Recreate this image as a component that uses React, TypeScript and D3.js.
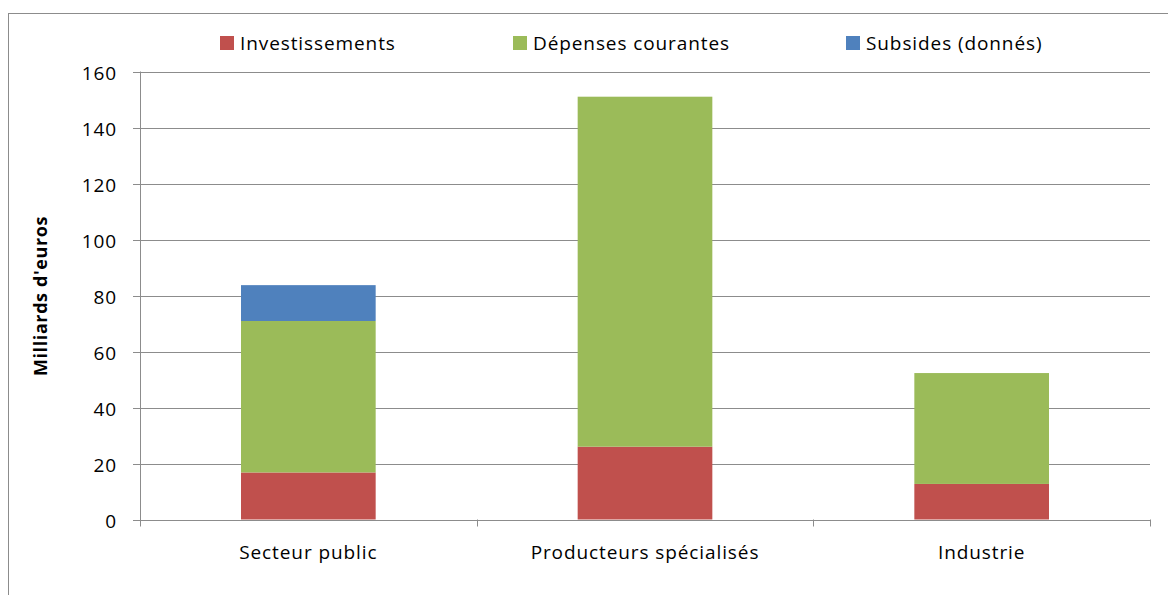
import React, { useEffect, useRef } from 'react';
import * as d3 from 'd3';

const categories = ['Secteur public', 'Producteurs spécialisés', 'Industrie'];
const seriesNames = ['Investissements', 'Dépenses courantes', 'Subsides (donnés)'];
const investissements = [16.8, 26, 12.7];
const depensesCourantes = [54.1, 125, 39.6];
const subsides = [12.8, 0, 0];
const yTicks = [0, 20, 40, 60, 80, 100, 120, 140, 160];
const colors = ['#c0504d', '#9bbb59', '#4f81bd'];

const W = 1168;
const H = 595;

const App: React.FC = () => {
  const svgRef = useRef<SVGSVGElement>(null);

  useEffect(() => {
    if (!svgRef.current) return;
    const svg = d3.select(svgRef.current);
    svg.selectAll('*').remove();

    const font = '"Open Sans", Lato, sans-serif';
    const fontSize = '19px';
    const spacing = '0.9px';
    const plot = { left: 140, right: 1150, top: 71.5, bottom: 519.5 };

    // cadre du graphique
    svg.append('rect')
      .attr('x', 8.5).attr('y', 13.5)
      .attr('width', W + 20).attr('height', H + 20)
      .attr('fill', 'white')
      .attr('stroke', '#8c8c8c');

    const x = d3.scaleBand<string>()
      .domain(categories)
      .range([plot.left, plot.right])
      .paddingInner(0.6)
      .paddingOuter(0.3);

    const y = d3.scaleLinear().domain([0, 160]).range([plot.bottom, plot.top]);

    // grille
    svg.append('g')
      .selectAll('line')
      .data(yTicks.filter(t => t > 0))
      .enter().append('line')
      .attr('x1', plot.left).attr('x2', plot.right)
      .attr('y1', d => Math.round(y(d)) + 0.5).attr('y2', d => Math.round(y(d)) + 0.5)
      .attr('stroke', '#8c8c8c').attr('stroke-width', 1);

    // barres empilées
    const rows = categories.map((c, i) => ({
      cat: c,
      [seriesNames[0]]: investissements[i],
      [seriesNames[1]]: depensesCourantes[i],
      [seriesNames[2]]: subsides[i],
    }));
    const stack = d3.stack<any>().keys(seriesNames)(rows);

    stack.forEach((layer, si) => {
      svg.append('g')
        .selectAll('rect')
        .data(layer.filter(d => d[1] - d[0] > 0))
        .enter().append('rect')
        .attr('x', d => x(d.data.cat)!)
        .attr('width', x.bandwidth())
        .attr('y', d => y(d[1]))
        .attr('height', d => y(d[0]) - y(d[1]))
        .attr('fill', colors[si]);
    });

    // axe Y
    const axisColor = '#8c8c8c';
    svg.append('line')
      .attr('x1', plot.left + 0.5).attr('x2', plot.left + 0.5)
      .attr('y1', plot.top).attr('y2', plot.bottom + 6)
      .attr('stroke', axisColor);
    yTicks.forEach(t => {
      const yy = Math.round(y(t)) + 0.5;
      svg.append('line')
        .attr('x1', plot.left - 7).attr('x2', plot.left)
        .attr('y1', yy).attr('y2', yy)
        .attr('stroke', axisColor);
      svg.append('text')
        .attr('x', plot.left - 23).attr('y', yy)
        .attr('text-anchor', 'end')
        .attr('dominant-baseline', 'central')
        .style('font-family', font).style('font-size', fontSize)
        .style('letter-spacing', spacing)
        .attr('fill', '#000')
        .text(t);
    });

    // axe X
    svg.append('line')
      .attr('x1', plot.left).attr('x2', plot.right)
      .attr('y1', Math.round(y(0)) + 0.5).attr('y2', Math.round(y(0)) + 0.5)
      .attr('stroke', axisColor);
    const step = x.step();
    d3.range(categories.length + 1).forEach(i => {
      const xx = Math.round(plot.left + i * step) + 0.5;
      svg.append('line')
        .attr('x1', xx).attr('x2', xx)
        .attr('y1', plot.bottom).attr('y2', plot.bottom + 7)
        .attr('stroke', axisColor);
    });
    categories.forEach(c => {
      svg.append('text')
        .attr('x', x(c)! + x.bandwidth() / 2)
        .attr('y', 552)
        .attr('text-anchor', 'middle')
        .attr('dominant-baseline', 'central')
        .style('font-family', font).style('font-size', fontSize)
        .style('letter-spacing', spacing)
        .text(c);
    });

    // titre axe Y
    svg.append('text')
      .attr('transform', 'translate(40,296) rotate(-90)')
      .attr('text-anchor', 'middle')
      .attr('dominant-baseline', 'central')
      .style('font-family', font).style('font-size', '18px')
      .style('letter-spacing', '0.6px')
      .style('font-weight', 'bold')
      .text("Milliards d'euros");

    // légende
    const legendX = [220, 513, 846];
    seriesNames.forEach((s, i) => {
      const g = svg.append('g').attr('transform', `translate(${legendX[i]},36)`);
      g.append('rect').attr('width', 14).attr('height', 14).attr('fill', colors[i]);
      g.append('text')
        .attr('x', 20).attr('y', 7)
        .attr('dominant-baseline', 'central')
        .style('font-family', font).style('font-size', fontSize)
        .style('letter-spacing', spacing)
        .text(s);
    });
  }, []);

  return (
    <svg
      ref={svgRef}
      width={W}
      height={H}
      style={{ position: 'absolute', left: 0, top: 0, background: 'white' }}
    />
  );
};

export default App;
